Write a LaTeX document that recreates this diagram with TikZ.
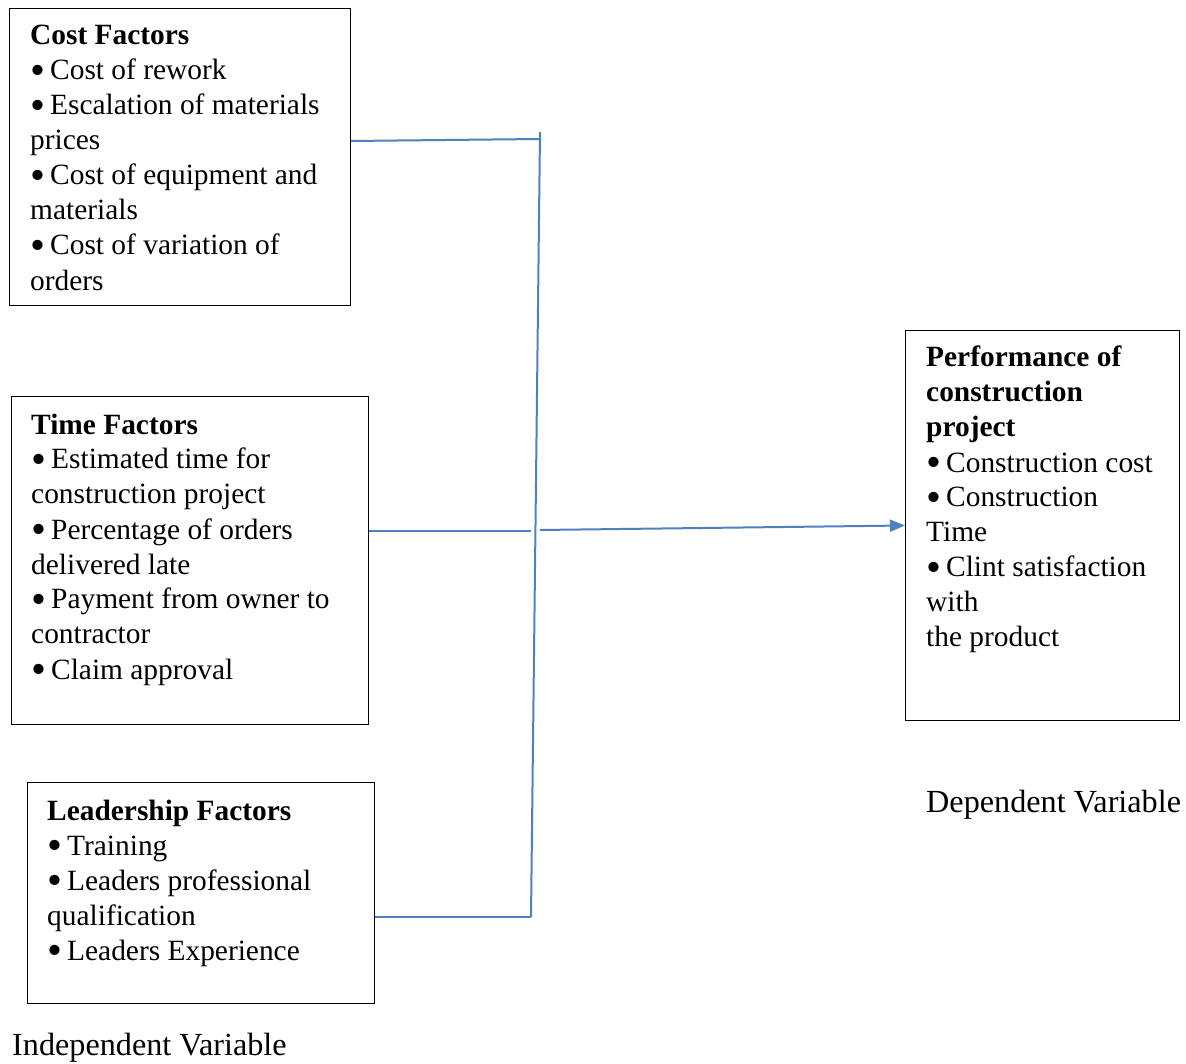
\documentclass[tikz,border=0pt]{standalone}
\usepackage{fontspec}
\setmainfont{Liberation Serif}
\usetikzlibrary{arrows.meta}

\definecolor{linkblue}{RGB}{79,129,189}
\newcommand{\boxtext}[2]{\parbox[t]{#1}{\raggedright #2}}
\newcommand{\bul}{\makebox[20pt][l]{\raisebox{-4.5pt}{\scalebox{1.45}{•}}}}

\begin{document}
\begin{tikzpicture}[x=1pt, y=-1pt,
	frame/.style={draw, line width=1pt, anchor=north west, inner sep=0pt},
	words/.style={anchor=base west, inner sep=0pt, font=\fontsize{29.4}{35}\selectfont},
	label/.style={anchor=base west, inner sep=0pt, font=\fontsize{32.2}{38}\selectfont},
	link/.style={draw=linkblue, line width=2pt}]
	\useasboundingbox (0,0) rectangle (1186,1064);

	% boxes
	\node[frame, minimum width=341pt, minimum height=297pt] (cost) at (9,8) {};
	\node[frame, minimum width=357pt, minimum height=328pt] (time) at (11,396) {};
	\node[frame, minimum width=347pt, minimum height=221pt] (lead) at (27,782) {};
	\node[frame, minimum width=274pt, minimum height=390pt] (perf) at (905,330) {};

	\node[words] (costtxt) at (30,45) {\boxtext{318pt}{\textbf{Cost Factors}\\
		\bul Cost of rework\\
		\bul Escalation of materials\\
		prices\\
		\bul Cost of equipment and\\
		materials\\
		\bul Cost of variation of\\[1pt]
		orders}};
	\node[words] (timetxt) at (31,434) {\boxtext{335pt}{\textbf{Time Factors}\\
		\bul Estimated time for\\
		construction project\\
		\bul Percentage of orders\\
		delivered late\\
		\bul Payment from owner to\\
		contractor\\
		\bul Claim approval}};
	\node[words] (leadtxt) at (47,820) {\boxtext{325pt}{\textbf{Leadership Factors}\\
		\bul Training\\
		\bul Leaders professional\\
		qualification\\
		\bul Leaders Experience}};
	\node[words] (perftxt) at (926,367) {\boxtext{250pt}{\textbf{Performance of}\\
		\textbf{construction}\\
		\textbf{project}\\
		\bul Construction cost\\
		\bul Construction\\
		Time\\
		\bul Clint satisfaction\\
		with\\
		the product}};

	\node[label] (dep) at (926,812) {Dependent Variable};
	\node[label] (indep) at (12,1055) {Independent Variable};

	% connectors
	\coordinate (bartop) at (540,132);
	\coordinate (barbot) at (531,917);
	\coordinate (costend) at (540,139);
	\coordinate (timeend) at (531,531);
	\coordinate (arrstart) at (540,530);
	\draw[link] (bartop) -- (barbot);
	\draw[link] ([yshift=-133pt]cost.north east) -- (costend);
	\draw[link] ([yshift=-135pt]time.north east) -- (timeend);
	\draw[link] ([yshift=-135pt]lead.north east) -- (barbot);
	\draw[link, -{Triangle[length=15pt, width=12pt]}] (arrstart) -- (perf.west);
\end{tikzpicture}
\end{document}
